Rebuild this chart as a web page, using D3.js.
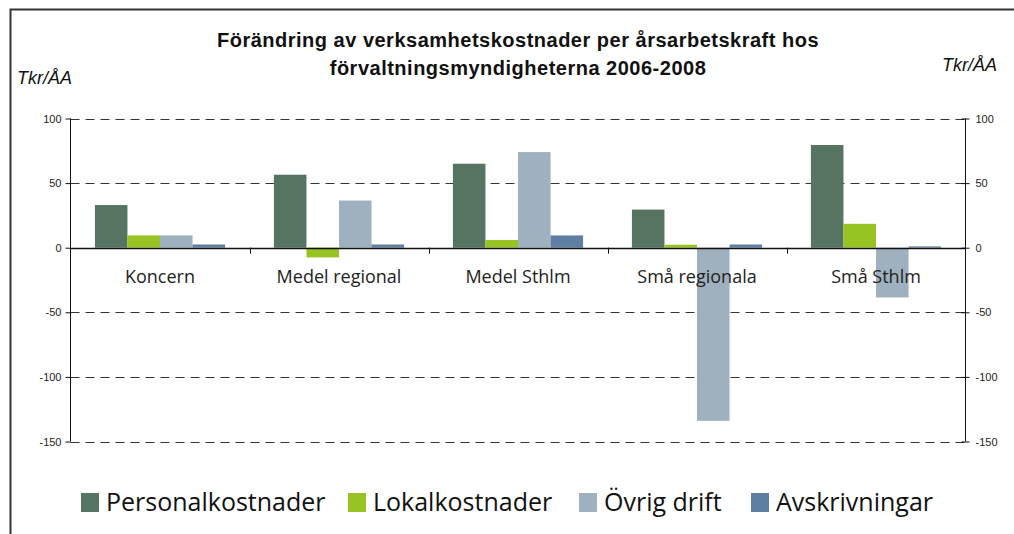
<!DOCTYPE html>
<html><head><meta charset="utf-8">
<script src="https://cdn.jsdelivr.net/npm/d3@7"></script>
<style>body{margin:0;background:#fff}svg{display:block}</style>
</head><body>
<svg id="c" width="1014" height="534"></svg>
<script>
const categories = ["Koncern","Medel regional","Medel Sthlm","Små regionala","Små Sthlm"];
const seriesNames = ["Personalkostnader","Lokalkostnader","Övrig drift","Avskrivningar"];
const personal = [33, 56.5, 65, 29.5, 79.5];
const lokal = [9.5, -7.5, 6, 2.3, 18.5];
const ovrig = [9.5, 36.5, 74, -134, -38.5];
const avskr = [2.5, 2.5, 9.5, 2.5, 1];
const yTicks = [100, 50, 0, -50, -100, -150];
const colors = ["#557461","#97c423","#9fb1bf","#5f7fa2"];
const titleLines = ["Förändring av verksamhetskostnader per årsarbetskraft hos","förvaltningsmyndigheterna 2006-2008"];
const unitLabel = "Tkr/ÅA";

const series = [personal, lokal, ovrig, avskr];
const svg = d3.select("#c");

// frame
svg.append("path").attr("d","M10.5,534 L10.5,9.5 L1014,9.5").attr("fill","none").attr("stroke","#333").attr("stroke-width",2);

const left = 70.5, right = 965.5;
const y = d3.scaleLinear().domain([-150,100]).range([441.5,118.5]);
const x0 = d3.scaleBand().domain(categories).range([left,right]).padding(0);
const x1 = d3.scaleBand().domain(seriesNames).range([0, x0.bandwidth()]).paddingOuter(0.75).paddingInner(0);

// title
svg.append("g").selectAll("text").data(titleLines).join("text")
  .attr("x",518).attr("y",(d,i)=>47+i*28).attr("text-anchor","middle")
  .attr("font-family","Liberation Sans, Arial, sans-serif").attr("font-weight","bold").attr("font-size",20)
  .attr("letter-spacing",0.5).attr("fill","#111")
  .text(d=>d);

svg.append("text").attr("x",17).attr("y",84).attr("font-family","Liberation Sans, Arial, sans-serif")
  .attr("font-style","italic").attr("font-size",18).attr("fill","#111").text(unitLabel);
svg.append("text").attr("x",997).attr("y",71).attr("text-anchor","end").attr("font-family","Liberation Sans, Arial, sans-serif")
  .attr("font-style","italic").attr("font-size",18).attr("fill","#111").text(unitLabel);

// gridlines
svg.append("g").selectAll("line").data(yTicks.filter(d=>d!==0)).join("line")
  .attr("x1",left).attr("x2",right).attr("y1",d=>Math.round(y(d))+0.5).attr("y2",d=>Math.round(y(d))+0.5)
  .attr("stroke","#333").attr("stroke-width",1).attr("stroke-dasharray","9,6");

// bars
const groups = svg.append("g").selectAll("g").data(categories).join("g")
  .attr("transform",d=>`translate(${x0(d)},0)`);
groups.selectAll("rect").data((c,ci)=>series.map((s,si)=>({s:seriesNames[si],v:s[ci],i:si}))).join("rect")
  .attr("x",d=>x1(d.s)).attr("width",x1.bandwidth())
  .attr("y",d=>y(Math.max(0,d.v))).attr("height",d=>Math.abs(y(d.v)-y(0)))
  .attr("fill",d=>colors[d.i]);

// zero line
svg.append("line").attr("x1",left).attr("x2",right).attr("y1",Math.round(y(0))+0.5).attr("y2",Math.round(y(0))+0.5)
  .attr("stroke","#111").attr("stroke-width",1.3);

// category ticks
svg.append("g").selectAll("line").data(categories.slice(1)).join("line")
  .attr("x1",d=>Math.round(x0(d))+0.5).attr("x2",d=>Math.round(x0(d))+0.5)
  .attr("y1",y(0)).attr("y2",y(0)+6).attr("stroke","#111");

// category labels
svg.append("g").selectAll("text").data(categories).join("text")
  .attr("x",d=>x0(d)+x0.bandwidth()/2).attr("y",283).attr("text-anchor","middle")
  .attr("font-family","Open Sans, sans-serif").attr("font-size",18).attr("fill","#222").text(d=>d);

// axes
const fmt = d => String(d);
const yl = d3.axisLeft(y).tickValues(yTicks).tickSize(5).tickPadding(4).tickFormat(fmt);
const gl = svg.append("g").attr("transform",`translate(${left},0)`).call(yl);
const yr = d3.axisRight(y).tickValues(yTicks).tickSize(4).tickPadding(6).tickFormat(fmt);
const gr = svg.append("g").attr("transform",`translate(${right},0)`).call(yr);
gr.selectAll(".tick line").attr("x1",-4);
[gl,gr].forEach(g=>{
  g.select(".domain").attr("stroke","#111").attr("d",`M0,${y(100)}V${y(-150)}`);
  g.selectAll(".tick line").attr("stroke","#111");
  g.selectAll("text").attr("font-family","Liberation Sans, Arial, sans-serif").attr("font-size",11).attr("fill","#222");
});

// legend
const legX = [81, 348, 579, 751];
const leg = svg.append("g").selectAll("g").data(seriesNames).join("g")
  .attr("transform",(d,i)=>`translate(${legX[i]},493)`);
leg.append("rect").attr("width",18).attr("height",19).attr("fill",(d,i)=>colors[i]);
leg.append("text").attr("x",25).attr("y",18).attr("font-family","Open Sans, sans-serif").attr("font-size",25).attr("fill","#111").text(d=>d);
</script>
</body></html>
